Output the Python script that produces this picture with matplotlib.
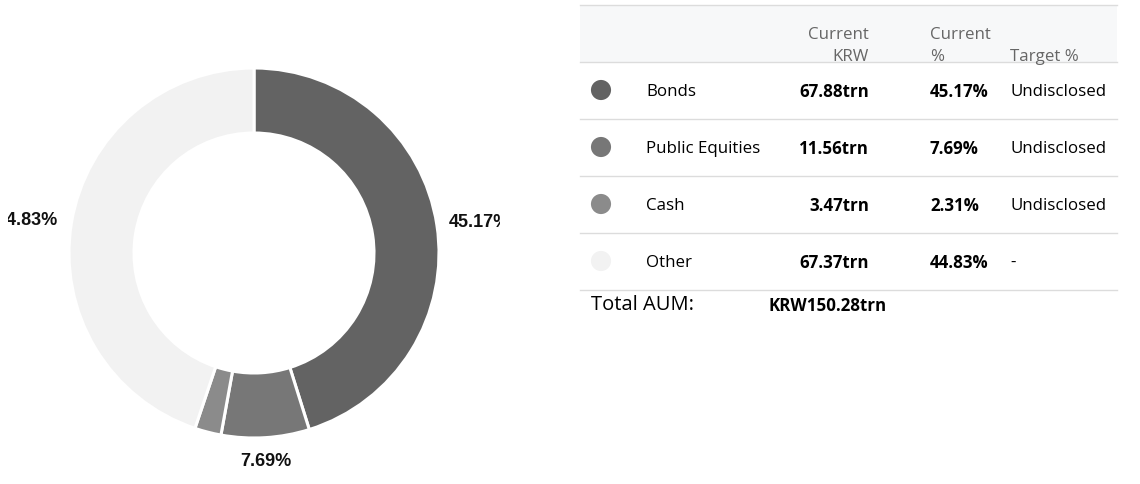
import matplotlib.pyplot as plt
import numpy as np

# asset allocation data
categories = ['Bonds', 'Public Equities', 'Cash', 'Other']
krw_values = ['67.88trn', '11.56trn', '3.47trn', '67.37trn']
pct_values = [45.17, 7.69, 2.31, 44.83]
targets = ['Undisclosed', 'Undisclosed', 'Undisclosed', '-']
total_aum = 'KRW150.28trn'

colors = ['#636363', '#777777', '#8b8b8b', '#f2f2f2']

W, H = 1140, 484
fig = plt.figure(figsize=(W / 100, H / 100), dpi=100)

# donut chart, axes in pixel-like data units (clip box cuts the outer labels)
x0, x1 = 8, 500
ax = fig.add_axes([x0 / W, 0, (x1 - x0) / W, 1])
cx, cy, r = 254, H - 253, 185
wedges, _ = ax.pie(pct_values, colors=colors, startangle=90, counterclock=False,
                   center=(cx, cy), radius=r,
                   wedgeprops=dict(width=65, edgecolor='white', linewidth=2.2))
ax.set_xlim(x0, x1)
ax.set_ylim(0, H)
ax.set_aspect('equal')
ax.axis('off')

# outside labels for the larger slices
start = 0
for val in pct_values:
    mid = 90 - (start + val / 2) * 3.6
    start += val
    if val < 5:
        continue
    a = np.deg2rad(mid)
    lx = cx + 197 * np.cos(a)
    ly = cy + 197 * np.sin(a)
    if abs(np.cos(a)) < 0.2:
        ha, va = 'center', 'top'
        ly -= 3
    else:
        ha = 'left' if np.cos(a) > 0 else 'right'
        va = 'center'
        ly += 1
        if ha == 'right':
            lx -= 2
    ax.text(lx, ly, f'{val:.2f}%', ha=ha, va=va, fontsize=13, fontweight='bold',
            family='Liberation Sans', color='#111111', clip_on=True)

# table on the right
tx = fig.add_axes([0, 0, 1, 1], facecolor='none')
tx.set_xlim(0, W)
tx.set_ylim(H, 0)
tx.axis('off')

font = 'Open Sans'
fs = 12.2
line_c = '#dcdcdc'
dy = 2  # baseline nudge for the table font

tx.add_patch(plt.Rectangle((580, 5), 537, 57, facecolor='#f7f8f9', edgecolor='none'))
tx.plot([580, 1117], [5, 5], color=line_c, lw=1)
tx.plot([580, 1117], [62, 62], color=line_c, lw=1)

hdr_c = '#666666'
tx.text(869, 33 + dy, 'Current', ha='right', va='center', fontsize=fs, family=font, color=hdr_c)
tx.text(869, 55 + dy, 'KRW', ha='right', va='center', fontsize=fs, family=font, color=hdr_c)
tx.text(930, 33 + dy, 'Current', ha='left', va='center', fontsize=fs, family=font, color=hdr_c)
tx.text(930, 55 + dy, '%', ha='left', va='center', fontsize=fs, family=font, color=hdr_c)
tx.text(1010, 55 + dy, 'Target %', ha='left', va='center', fontsize=fs, family=font, color=hdr_c)

row_h = 57
for i, name in enumerate(categories):
    y = 90 + i * row_h
    tx.scatter([601], [y], s=210, color=colors[i], edgecolors='none')
    tx.text(646, y + dy, name, ha='left', va='center', fontsize=fs, family=font, color='black')
    tx.text(869, y + dy, krw_values[i], ha='right', va='center', fontsize=fs, family=font,
            fontweight='bold', color='black')
    tx.text(930, y + dy, f'{pct_values[i]:.2f}%', ha='left', va='center', fontsize=fs,
            family=font, fontweight='bold', color='black')
    tx.text(1010, y + dy, targets[i], ha='left', va='center', fontsize=fs, family=font, color='black')
    yl = 62 + (i + 1) * row_h
    tx.plot([580, 1117], [yl, yl], color=line_c, lw=1)

tx.text(591, 303 + dy, 'Total AUM:', ha='left', va='center', fontsize=14.5, family=font, color='black')
tx.text(769, 304 + dy, total_aum, ha='left', va='center', fontsize=fs, family=font,
        fontweight='bold', color='black')

fig.savefig('out.png', dpi=100)
